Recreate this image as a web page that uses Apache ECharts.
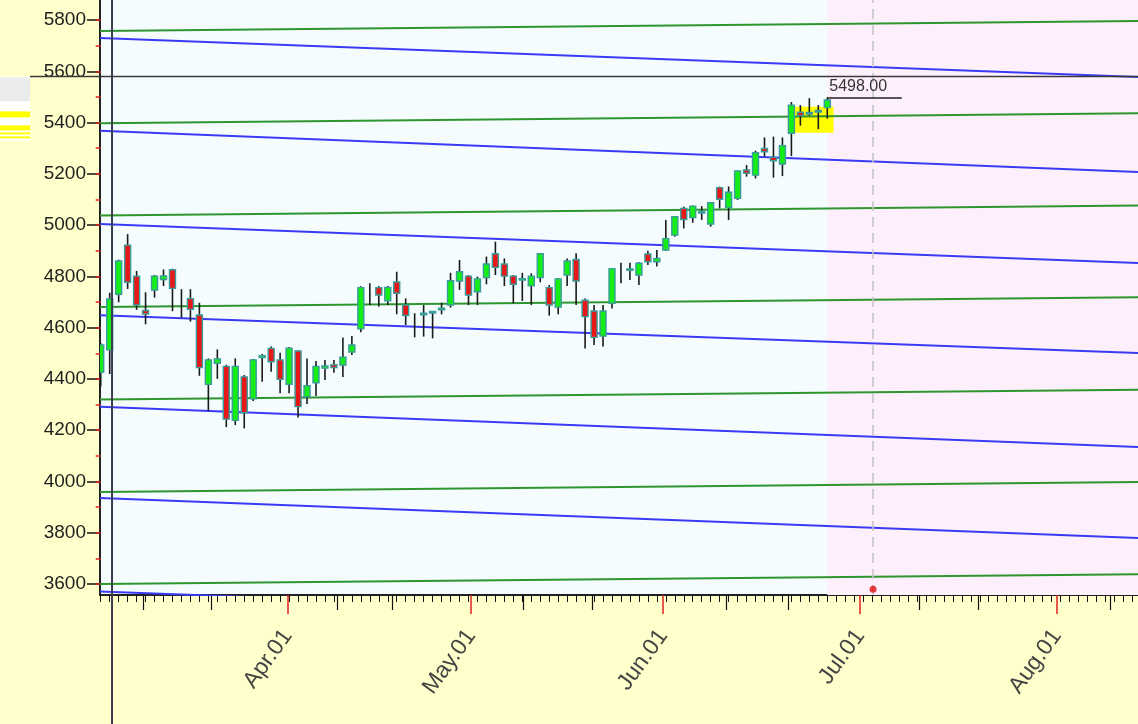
<!DOCTYPE html>
<html><head><meta charset="utf-8">
<script src="https://cdn.jsdelivr.net/npm/echarts@6/dist/echarts.min.js"></script>
<style>html,body{margin:0;padding:0;background:#ffffcc}#c{width:1138px;height:724px}</style>
</head><body><div id="c"></div>
<script>
// [index, open, close, low, high]
const candles = [
[0,4426,4532,4370,4540],[1,4513,4712,4419,4736],[2,4730,4860,4699,4865],[3,4922,4777,4751,4965],
[4,4801,4688,4669,4821],[5,4667,4653,4613,4738],[6,4747,4801,4717,4805],[7,4788,4802,4762,4827],
[8,4826,4753,4664,4830],[9,4700,4700,4639,4750],[10,4713,4671,4623,4750],[11,4649,4444,4412,4697],
[12,4379,4474,4276,4480],[13,4461,4478,4400,4515],[14,4449,4243,4212,4455],[15,4238,4449,4220,4480],
[16,4408,4268,4207,4415],[17,4322,4474,4314,4478],[18,4483,4490,4389,4497],[19,4519,4467,4428,4526],
[20,4474,4398,4344,4502],[21,4379,4520,4344,4524],[22,4509,4292,4249,4512],[23,4330,4373,4302,4480],
[24,4385,4449,4333,4470],[25,4442,4450,4396,4474],[26,4455,4444,4424,4474],[27,4454,4485,4407,4561],
[28,4505,4532,4493,4567],[29,4595,4756,4582,4761],[30,4730,4730,4688,4773],[31,4756,4727,4682,4762],
[32,4705,4757,4688,4762],[33,4778,4734,4652,4818],[34,4688,4647,4610,4714],[35,4615,4615,4562,4656],
[36,4653,4656,4565,4688],[37,4663,4658,4558,4663],[38,4670,4676,4652,4697],[39,4688,4783,4678,4814],
[40,4782,4818,4747,4864],[41,4801,4727,4688,4805],[42,4740,4790,4688,4799],[43,4795,4848,4769,4877],
[44,4888,4835,4805,4935],[45,4848,4801,4762,4870],[46,4801,4769,4695,4805],[47,4789,4791,4704,4814],
[48,4763,4801,4688,4812],[49,4795,4888,4777,4890],[50,4756,4688,4647,4766],[51,4680,4790,4652,4793],
[52,4805,4860,4762,4870],[53,4866,4782,4688,4890],[54,4707,4643,4519,4714],[55,4665,4562,4532,4688],
[56,4567,4665,4526,4688],[57,4695,4830,4675,4832],[58,4810,4810,4773,4853],[59,4826,4829,4786,4853],
[60,4805,4851,4766,4855],[61,4887,4857,4844,4900],[62,4857,4870,4838,4903],[63,4903,4947,4900,5020],
[64,4961,5033,4955,5035],[65,5065,5022,4987,5072],[66,5029,5074,5009,5076],[67,5051,5053,5020,5074],
[68,5004,5087,4994,5090],[69,5146,5101,5065,5150],[70,5068,5128,5020,5151],[71,5104,5211,5098,5213],
[72,5215,5202,5189,5234],[73,5195,5282,5182,5290],[74,5299,5286,5267,5342],[75,5264,5251,5185,5345],
[76,5238,5310,5191,5342],[77,5358,5468,5269,5480],[78,5440,5427,5388,5468],[79,5437,5439,5427,5495],
[80,5445,5447,5374,5468],[81,5458,5488,5415,5498]
];
const yTickValues = [3600,3800,4000,4200,4400,4600,4800,5000,5200,5400,5600,5800];
const yMinorTickValues = [3600,3700,3800,3900,4000,4100,4200,4300,4400,4500,4600,4700,4800,4900,5000,5100,5200,5300,5400,5500,5600,5700,5800];
const monthTickPos = [20.85, 41.3, 62.7, 84.65, 106.6];
const monthLabels = ['Apr.01','May.01','Jun.01','Jul.01','Aug.01'];
const weekTickPos = [4.75, 12.3, 26.4, 32.5, 47.1, 54.8, 69.7, 76.6, 91.2, 97.8, 112.6];
const dayTickPos = [0,1,2,3,4,5,6,7,8,9,10,11,12,13,14,15,16,17,18,19,20,21,22,23,24,25,26,27,28,29,30,31,32,33,34,35,36,37,38,39,40,41,42,43,44,45,46,47,48,49,50,51,52,53,54,55,56,57,58,59,60,61,62,63,64,65,66,67,68,69,70,71,72,73,74,75,76,77,78,79,80,81,82,83,84,85,86,87,88,89,90,91,92,93,94,95,96,97,98,99,100,101,102,103,104,105,106,107,108,109,110,111,112,113,114,115];
const greenLeft  = [5757, 5397, 5037, 4680, 4320, 3959, 3600];
const greenRight = [5796, 5436, 5076, 4718, 4358, 3998, 3638];
const blueLeft   = [5730, 5368, 5004, 4648, 4291, 3935, 3571];
const blueRight  = [5578, 5207, 4852, 4501, 4134, 3779, 3419];
const lastHigh = 5498;
const lastHighEnd = 89.3;
const highlightX = [76.6, 81.7];
const highlightY = [5360, 5462];
const futureStart = 81;
const markerX = 86.1, markerY = 3579;
const crossX = 1.26, crossY = 5580;
const X_MIN = -0.08, X_MAX = 115.64, Y_MIN = 3557, Y_MAX = 5878;

const chart = echarts.init(document.getElementById('c'));
const series = [];
series.push({
  type:'line', data:[], z:1, silent:true,
  markArea:{silent:true, data:[
    [{xAxis:futureStart, yAxis:Y_MIN, itemStyle:{color:'#fdf0fc'}}, {xAxis:X_MAX, yAxis:Y_MAX}],
    [{xAxis:highlightX[0], yAxis:highlightY[0], itemStyle:{color:'#ffff00'}}, {xAxis:highlightX[1], yAxis:highlightY[1]}]
  ]},
  markLine:{silent:true, symbol:'none', label:{show:false},
    lineStyle:{color:'#c4c4c4', type:[10,6], width:1.5},
    data:[{xAxis:markerX}]}
});
greenLeft.forEach((v,i)=>{
  series.push({type:'line', data:[[X_MIN,v],[X_MAX,greenRight[i]]], symbol:'none', silent:true, z:3,
    lineStyle:{color:'#2f962f', width:2}});
});
blueLeft.forEach((v,i)=>{
  series.push({type:'line', data:[[X_MIN,v],[X_MAX,blueRight[i]]], symbol:'none', silent:true, z:3,
    lineStyle:{color:'#3a3af5', width:2}});
});
series.push({
  type:'custom', data:candles, encode:{x:0, y:[1,2,3,4]}, clip:true, z:5, silent:true,
  renderItem:function(params, api){
    const x=api.value(0), o=api.value(1), c=api.value(2), l=api.value(3), h=api.value(4);
    const pH=api.coord([x,h]), pL=api.coord([x,l]), pO=api.coord([x,o]), pC=api.coord([x,c]);
    const ch=[{type:'line', shape:{x1:pH[0],y1:pH[1],x2:pL[0],y2:pL[1]}, style:{stroke:'#1a1a1a', lineWidth:1.6}}];
    if (o!==c){
      const top=Math.min(pO[1],pC[1]);
      const ht=Math.max(Math.abs(pO[1]-pC[1]),1.5);
      ch.push({type:'rect', shape:{x:pO[0]-3, y:top, width:6, height:ht},
        style:{fill: c>o?'#14ee14':'#e81818', stroke:'#3a9c9c', lineWidth:1.4}});
    }
    return {type:'group', children:ch};
  }
});
series.push({
  type:'scatter', data:[[markerX, markerY]], symbolSize:7, itemStyle:{color:'#e01010'}, z:6, silent:true,
  markLine:{silent:true, symbol:'none',
    lineStyle:{color:'#222', type:'solid', width:1.5},
    label:{show:true, position:'insideStartTop', formatter:lastHigh.toFixed(2), color:'#333', fontSize:16, fontFamily:'Liberation Sans', distance:[2,3]},
    data:[[{coord:[futureStart,lastHigh]},{coord:[lastHighEnd,lastHigh]}]]}
});

const xBase = {type:'value', min:X_MIN, max:X_MAX, gridIndex:0, position:'bottom', splitLine:{show:false}};
chart.setOption({
  animation:false,
  backgroundColor:'#ffffcc',
  grid:{left:100, right:0, top:0, bottom:129, show:true, backgroundColor:'#f4fcfe', borderWidth:0},
  xAxis:[
    Object.assign({}, xBase, {axisLine:{show:true, onZero:false, lineStyle:{color:'#222', width:2}},
      axisTick:{show:true, customValues:dayTickPos, length:7, lineStyle:{color:'#111', width:1}},
      axisLabel:{show:false}}),
    Object.assign({}, xBase, {axisLine:{show:false},
      axisTick:{show:true, customValues:weekTickPos, length:15, lineStyle:{color:'#111', width:1.2}},
      axisLabel:{show:false}}),
    Object.assign({}, xBase, {axisLine:{show:false},
      axisTick:{show:true, customValues:monthTickPos, length:19, lineStyle:{color:'#e02020', width:1.5}},
      axisLabel:{show:true, customValues:monthTickPos, rotate:54, margin:37, fontSize:23, color:'#444', fontFamily:'Liberation Sans',
        formatter:function(v){ let k=0; monthTickPos.forEach((p,i)=>{ if(Math.abs(p-v)<0.01) k=i; }); return monthLabels[k]; }}})
  ],
  yAxis:[
    {type:'value', min:Y_MIN, max:Y_MAX, position:'left', splitLine:{show:false},
      axisLine:{show:true, onZero:false, lineStyle:{color:'#222', width:2}},
      axisTick:{show:true, customValues:yTickValues, length:13, lineStyle:{color:'#111', width:1.5}},
      axisLabel:{show:true, customValues:yTickValues, margin:14, fontSize:19, color:'#1e1e1e', fontFamily:'Liberation Sans',
        formatter:function(v){ return String(Math.round(v)); }}},
    {type:'value', min:Y_MIN, max:Y_MAX, position:'left', splitLine:{show:false},
      axisLine:{show:false},
      axisTick:{show:true, customValues:yMinorTickValues, length:5, lineStyle:{color:'#e02020', width:1.5}},
      axisLabel:{show:false}}
  ],
  series: series
});
const cp = chart.convertToPixel({xAxisIndex:0, yAxisIndex:0}, [crossX, crossY]);
chart.setOption({graphic:[
  {type:'rect', shape:{x:0, y:cp[1], width:30, height:64}, style:{fill:'#ffffff'}, z:90},
  {type:'rect', shape:{x:0, y:cp[1]+1, width:30, height:24}, style:{fill:'#ebebeb'}, z:91},
  {type:'rect', shape:{x:0, y:cp[1]+35, width:30, height:6}, style:{fill:'#ffff00'}, z:91},
  {type:'rect', shape:{x:0, y:cp[1]+49, width:30, height:5}, style:{fill:'#ffff00'}, z:91},
  {type:'rect', shape:{x:0, y:cp[1]+56, width:30, height:2}, style:{fill:'#ffff00'}, z:91},
  {type:'rect', shape:{x:0, y:cp[1]+60, width:30, height:2}, style:{fill:'#ffff00'}, z:91},
  {type:'line', shape:{x1:cp[0], y1:0, x2:cp[0], y2:724}, style:{stroke:'#3d3d52', lineWidth:2}, z:100},
  {type:'line', shape:{x1:30, y1:cp[1], x2:1138, y2:cp[1]}, style:{stroke:'#3a3a3a', lineWidth:1.5}, z:100}
]});
</script></body></html>
